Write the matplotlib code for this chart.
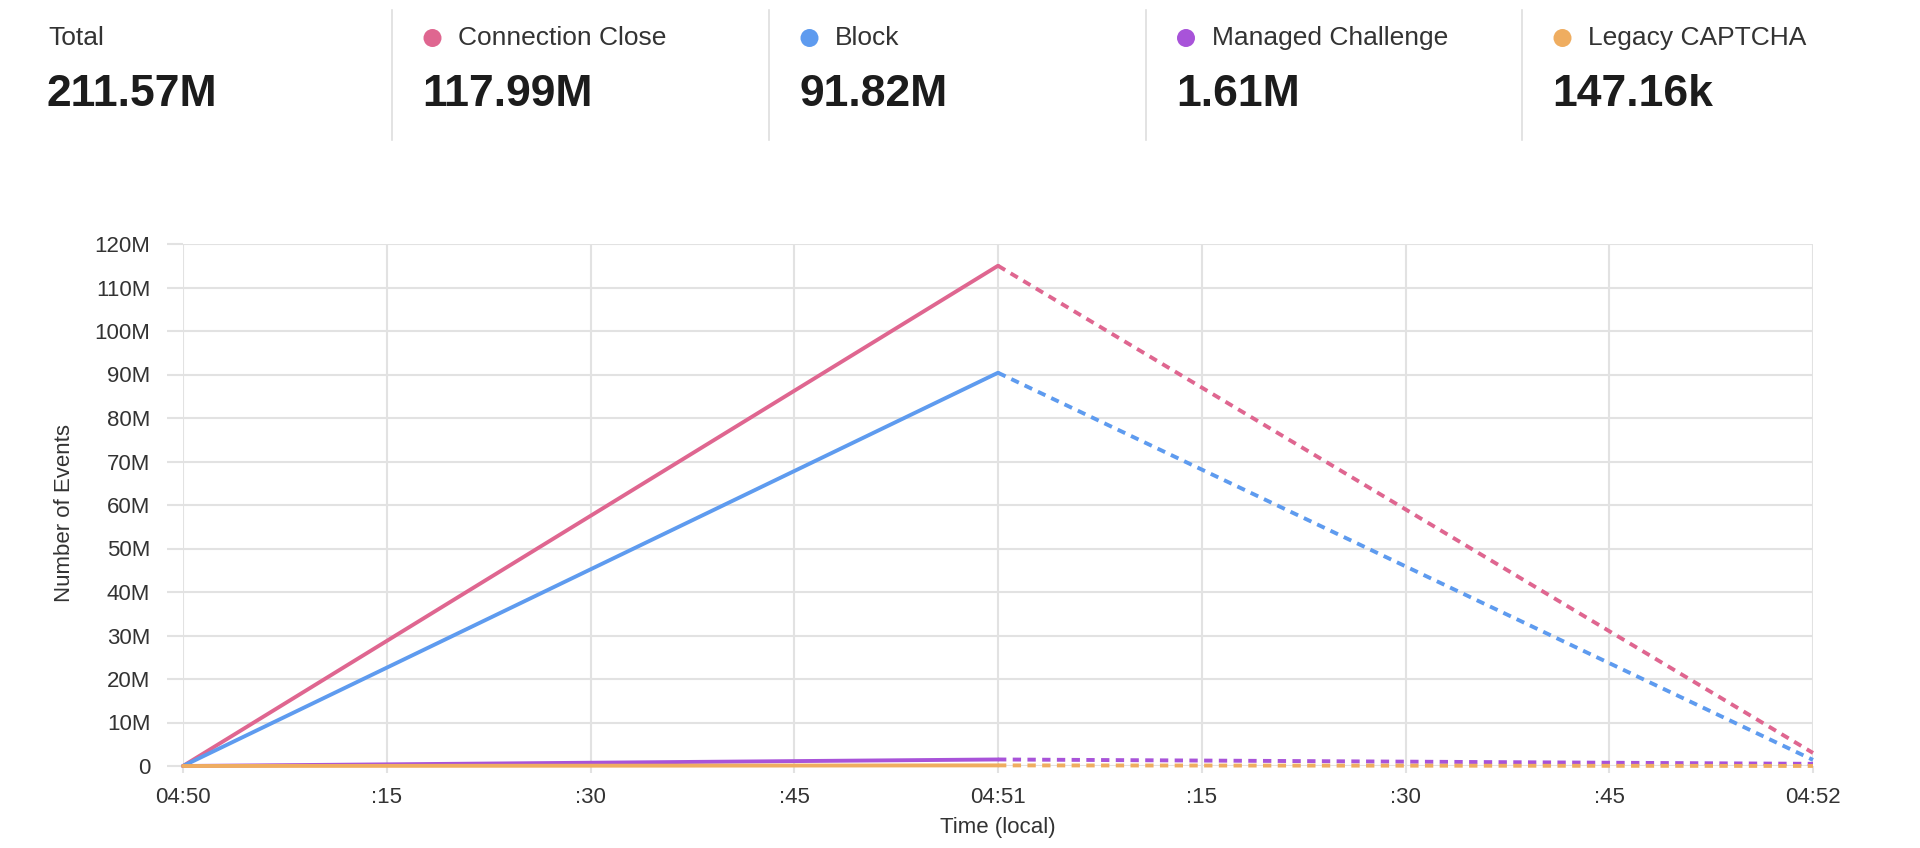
import matplotlib
matplotlib.use("Agg")
import matplotlib.pyplot as plt
from matplotlib.patches import Ellipse
from matplotlib.lines import Line2D

# ---------------- data ----------------
header_labels = ["Total", "Connection Close", "Block", "Managed Challenge", "Legacy CAPTCHA"]
header_values = ["211.57M", "117.99M", "91.82M", "1.61M", "147.16k"]

series_names = ["Connection Close", "Block", "Managed Challenge", "Legacy CAPTCHA"]
series_colors = ["#DF6690", "#5E9BEF", "#A853D9", "#EFAD60"]

time_seconds = [0, 60, 120]                       # 04:50, 04:51, 04:52
connection_close = [0, 115.0e6, 3.0e6]
block = [0, 90.4e6, 1.4e6]
managed_challenge = [0, 1.5e6, 0.5e6]
legacy_captcha = [0, 0.14e6, 0.01e6]
series_values = [connection_close, block, managed_challenge, legacy_captcha]

x_ticks = [0, 15, 30, 45, 60, 75, 90, 105, 120]
x_tick_labels = ["04:50", ":15", ":30", ":45", "04:51", ":15", ":30", ":45", "04:52"]
y_ticks = [i * 10e6 for i in range(13)]
y_tick_labels = ["0"] + [f"{i * 10}M" for i in range(1, 13)]

# ---------------- figure ----------------
plt.rcParams["font.family"] = ["Liberation Sans", "DejaVu Sans"]
plt.rcParams["lines.scale_dashes"] = False

W, H = 1920, 848
fig = plt.figure(figsize=(W / 100, H / 100), dpi=100)
fig.patch.set_facecolor("white")

grid_color = "#e2e2e2"
ax = fig.add_axes([183 / W, 1 - 766 / H, (1813 - 183) / W, (766 - 244) / H])

for name, vals, col in zip(series_names, series_values, series_colors):
    ax.plot(time_seconds[:2], vals[:2], color=col, lw=2.8, solid_capstyle="round",
            zorder=3, clip_on=False)
    ax.plot(time_seconds[1:], vals[1:], color=col, lw=2.8, dashes=(6, 4.6),
            dash_capstyle="butt", zorder=3, clip_on=False)

ax.set_xlim(0, 120)
ax.set_ylim(0, 120e6)
ax.set_xticks(x_ticks)
ax.set_xticklabels(x_tick_labels)
ax.set_yticks(y_ticks)
ax.set_yticklabels(y_tick_labels)

for s in ax.spines.values():
    s.set_visible(False)
ax.grid(True, color=grid_color, lw=1.5, zorder=0)
ax.set_axisbelow(True)
ax.tick_params(axis="y", length=11.5, width=1.5, color=grid_color, pad=12,
               labelsize=16, labelcolor="#333333")
ax.tick_params(axis="x", length=5, width=1.5, color=grid_color, pad=10,
               labelsize=16, labelcolor="#333333")

ax.set_xlabel("Time (local)", fontsize=16, color="#333333")
ax.xaxis.set_label_coords(0.5, (766 - 827) / 522)
ax.xaxis.label.set_va("center")
ax.set_ylabel("Number of Events", fontsize=16, color="#333333")
ax.yaxis.set_label_coords((65 - 183) / 1630, (766 - 513) / 522)
ax.yaxis.label.set_va("center")

# ---------------- header ----------------
separators = [392, 769, 1145.5, 1522]
for sx in separators:
    fig.add_artist(Line2D([sx / W, sx / W], [1 - 10 / H, 1 - 140 / H],
                          transform=fig.transFigure, color="#dedede", lw=1.2))

label_y = 1 - 38 / H
value_y = 1 - 94 / H
for i, (lab, val) in enumerate(zip(header_labels, header_values)):
    if i == 0:
        tx, vx = 48, 47
    else:
        base = separators[i - 1]
        tx, vx = base + 66, base + 30.5
        dx = base + 40.5
        fig.add_artist(Ellipse((dx / W, label_y), 18 / W, 18 / H,
                               transform=fig.transFigure,
                               color=series_colors[i - 1], lw=0))
    fig.text(tx / W, label_y, lab, fontsize=19, color="#333333", va="center", ha="left")
    fig.text(vx / W, value_y, val, fontsize=32, fontweight="bold", color="#1c1c1c",
             va="center", ha="left")

fig.savefig("out.png", dpi=100, facecolor="white")
